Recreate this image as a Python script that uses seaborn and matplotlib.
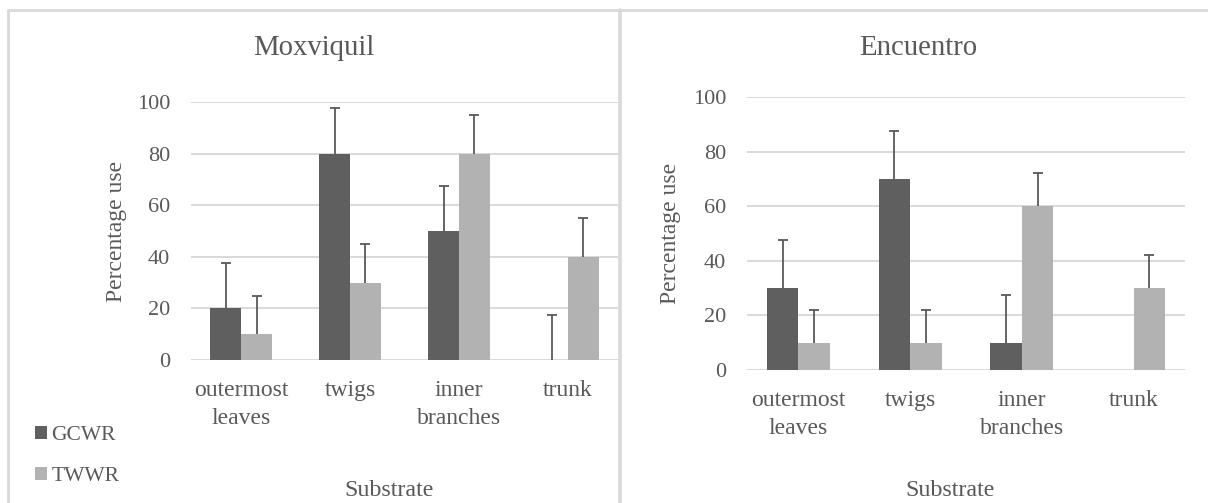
import numpy as np
import pandas as pd
import matplotlib
matplotlib.use("Agg")
import matplotlib.pyplot as plt
import seaborn as sns
from matplotlib.patches import Patch
from matplotlib.lines import Line2D

# ---------------- data ----------------
categories = ["outermost\nleaves", "twigs", "inner\nbranches", "trunk"]
series = ["GCWR", "TWWR"]
sites = ["Moxviquil", "Encuentro"]

mox_gcwr = [20, 80, 50, 0]
mox_twwr = [10, 30, 80, 40]
mox_gcwr_err = [17.5, 17.5, 17.5, 17.5]
mox_twwr_err = [15, 15, 15, 15]

enc_gcwr = [30, 70, 10, 0]
enc_twwr = [10, 10, 60, 30]
enc_gcwr_err = [17.5, 17.5, 17.5, None]
enc_twwr_err = [12, 12, 12, 12]

yticks = [0, 20, 40, 60, 80, 100]
xlabel = "Substrate"
ylabel = "Percentage use"

# ---------------- style ----------------
sns.set_style("white")
plt.rcParams["font.family"] = ["Liberation Serif", "DejaVu Serif"]
TXT = "#595959"
GRID = "#d9d9d9"
palette = {"GCWR": "#5f5f5f", "TWWR": "#b2b2b2"}

W, H = 1208, 503
fig = plt.figure(figsize=(W / 100, H / 100), dpi=100)


def fx(px):
    return px / W


def fy(py):
    return 1 - py / H


def make_df(g, t):
    return pd.DataFrame({
        "substrate": categories * 2,
        "series": [series[0]] * len(categories) + [series[1]] * len(categories),
        "value": list(g) + list(t),
    })


panels = [
    dict(site=sites[0], g=mox_gcwr, t=mox_twwr, ge=mox_gcwr_err, te=mox_twwr_err,
         box=(191, 618, 102, 360), title_x=314, xlab_x=389),
    dict(site=sites[1], g=enc_gcwr, t=enc_twwr, ge=enc_gcwr_err, te=enc_twwr_err,
         box=(747, 1185, 97, 370), title_x=918, xlab_x=950),
]

for p in panels:
    x0, x1, ytop, ybot = p["box"]
    ax = fig.add_axes([fx(x0), fy(ybot), fx(x1 - x0), (ybot - ytop) / H])
    df = make_df(p["g"], p["t"])
    sns.barplot(data=df, x="substrate", y="value", hue="series",
                order=categories, hue_order=series, palette=palette,
                width=0.565, saturation=1, errorbar=None, legend=False,
                linewidth=0, ax=ax)
    for cont, errs in zip(ax.containers, [p["ge"], p["te"]]):
        xs, ys, es = [], [], []
        for bar, e in zip(cont, errs):
            if e is None:
                continue
            xs.append(bar.get_x() + bar.get_width() / 2)
            ys.append(bar.get_height())
            es.append(e)
        eb = ax.errorbar(xs, ys, yerr=[np.zeros(len(es)), es], fmt="none",
                         ecolor=TXT, elinewidth=1.3, capsize=3.6, capthick=1.3,
                         clip_on=False, zorder=3)
        caps = eb[1]
        if len(caps) == 2:
            caps[0].set_visible(False)
    ax.set_ylim(0, 100)
    ax.set_yticks(yticks)
    ax.set_yticklabels([str(v) for v in yticks])
    ax.yaxis.grid(True, color=GRID, linewidth=1.4)
    ax.xaxis.grid(False)
    ax.set_axisbelow(True)
    for s in ax.spines.values():
        s.set_visible(False)
    ax.tick_params(axis="y", length=0, pad=15, labelsize=16, labelcolor=TXT)
    ax.tick_params(axis="x", length=0, pad=14.5, labelsize=17, labelcolor=TXT)
    for lab in ax.get_xticklabels():
        lab.set_linespacing(1.4)
    ax.set_xlabel("")
    ax.set_ylabel(ylabel, fontsize=17, color=TXT)
    ax.yaxis.set_label_coords(-0.15, 0.5)
    fig.text(fx(p["title_x"]), fy(48), p["site"], ha="center", va="center",
             fontsize=20.7, color=TXT)
    fig.text(fx(p["xlab_x"]), fy(490), xlabel, ha="center", va="center",
             fontsize=17.3, color=TXT)

# legend (left panel)
handles = [Patch(facecolor=palette[s], edgecolor="none") for s in series]
fig.legend(handles, series, loc="upper left", bbox_to_anchor=(fx(35), fy(426)),
           frameon=False, fontsize=15.5, handlelength=0.55, handleheight=0.55,
           handletextpad=0.2, labelspacing=1.0, borderpad=0, borderaxespad=0,
           labelcolor=TXT)

# panel borders
bw = 2.0
fig.add_artist(Line2D([fx(8), 1], [fy(10), fy(10)], color=GRID, lw=bw))
fig.add_artist(Line2D([fx(8), fx(8)], [fy(10), 0], color=GRID, lw=bw))
fig.add_artist(Line2D([fx(620), fx(620)], [fy(10), 0], color=GRID, lw=2.6))

fig.savefig("out.png", dpi=100, facecolor="white")
